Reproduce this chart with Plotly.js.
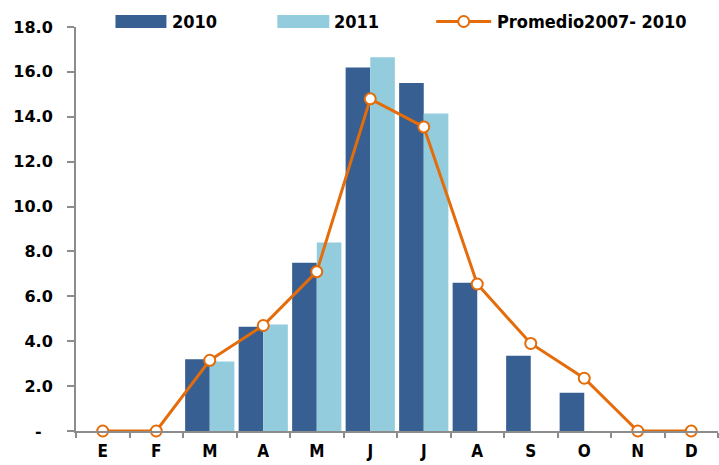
<!DOCTYPE html>
<html>
<head>
<meta charset="utf-8">
<script src="https://cdn.plot.ly/plotly-3.0.1.min.js"></script>
<style>html,body{margin:0;padding:0;background:#fff;}#chart{width:719px;height:465px;}</style>
</head>
<body>
<div id="chart"></div>
<script>
var months = ["E","F","M","A","M","J","J","A","S","O","N","D"];
var monthIds = ["Ene","Feb","Mar","Abr","May","Jun","Jul","Ago","Sep","Oct","Nov","Dic"];
var values2010 = [0, 0, 3.2, 4.65, 7.5, 16.2, 15.5, 6.6, 3.35, 1.7, 0, 0];
var values2011 = [0, 0, 3.1, 4.75, 8.4, 16.65, 14.15, null, null, null, null, null];
var promedio = [0, 0, 3.15, 4.7, 7.1, 14.8, 13.55, 6.55, 3.9, 2.35, 0, 0];
var yTickVals = [0, 2, 4, 6, 8, 10, 12, 14, 16, 18];
var yTickText = ["-\u00a0\u00a0", "2.0", "4.0", "6.0", "8.0", "10.0", "12.0", "14.0", "16.0", "18.0"];
var seriesNames = ["2010", "2011", "Promedio2007- 2010"];

var C2010 = "#375F91", C2011 = "#93CDDD", CPROM = "#E46C0A";
var fontCond = "DejaVu Sans Condensed, DejaVu Sans, sans-serif";

var traces = [
  {type: "bar", name: seriesNames[0], x: monthIds, y: values2010,
   marker: {color: C2010, line: {width: 0}}},
  {type: "bar", name: seriesNames[1], x: monthIds, y: values2011,
   marker: {color: C2011, line: {width: 0}}},
  {type: "scatter", mode: "lines+markers", name: seriesNames[2], x: monthIds, y: promedio,
   line: {color: CPROM, width: 3},
   marker: {symbol: "circle", size: 11, color: "#ffffff", line: {color: CPROM, width: 2}},
   cliponaxis: false}
];

// plot area geometry (pixels) used to place the hand-made legend
var W = 719, H = 465, L = 75.5, R = 1, T = 27, B = 34;
var pw = W - L - R, ph = H - T - B;
function px(x) { return (x - L) / pw; }
function py(y) { return (H - B - y) / ph; }

var legendY = 21.5;
var shapes = [
  {type: "rect", xref: "paper", yref: "paper", x0: px(115), x1: px(166), y0: py(28), y1: py(15),
   fillcolor: C2010, line: {width: 0}},
  {type: "rect", xref: "paper", yref: "paper", x0: px(277), x1: px(329), y0: py(28), y1: py(15),
   fillcolor: C2011, line: {width: 0}},
  {type: "line", xref: "paper", yref: "paper", x0: px(436), x1: px(491), y0: py(legendY), y1: py(legendY),
   line: {color: CPROM, width: 3}},
  {type: "circle", xref: "paper", yref: "paper", x0: px(463.5 - 5.5), x1: px(463.5 + 5.5),
   y0: py(legendY + 5.5), y1: py(legendY - 5.5), fillcolor: "#ffffff", line: {color: CPROM, width: 2}}
];
var legFont = {family: fontCond, size: 18, color: "#000", weight: "bold"};
var annotations = [
  {xref: "paper", yref: "paper", x: px(170), y: py(legendY), xanchor: "left", yanchor: "middle",
   text: seriesNames[0], showarrow: false, font: legFont},
  {xref: "paper", yref: "paper", x: px(332), y: py(legendY), xanchor: "left", yanchor: "middle",
   text: seriesNames[1], showarrow: false, font: legFont},
  {xref: "paper", yref: "paper", x: px(495), y: py(legendY), xanchor: "left", yanchor: "middle",
   text: seriesNames[2], showarrow: false, font: legFont}
];

var layout = {
  width: W, height: H,
  margin: {l: L, r: R, t: T, b: B, pad: 0},
  paper_bgcolor: "#ffffff", plot_bgcolor: "#ffffff",
  barmode: "group", bargap: 0.08, bargroupgap: 0,
  showlegend: false,
  shapes: shapes,
  annotations: annotations,
  xaxis: {type: "category", range: [-0.5, 11.5], tickmode: "array", tickvals: monthIds, ticktext: months,
          tickson: "boundaries", ticks: "outside", ticklen: 5, tickcolor: "#8c8c8c", tickwidth: 2,
          showline: true, linecolor: "#8c8c8c", linewidth: 2, showgrid: false, zeroline: false,
          ticklabelstandoff: 4, automargin: false,
          tickfont: {family: fontCond, size: 17, color: "#000", weight: "bold"}},
  yaxis: {range: [0, 18], tickmode: "array", tickvals: yTickVals, ticktext: yTickText,
          ticks: "outside", ticklen: 7, tickcolor: "#8c8c8c", tickwidth: 2,
          showline: true, linecolor: "#8c8c8c", linewidth: 2, showgrid: false, zeroline: false,
          ticklabelstandoff: 11, automargin: false,
          tickfont: {family: "DejaVu Sans, sans-serif", size: 16, color: "#000", weight: "bold"}}
};

Plotly.newPlot("chart", traces, layout, {displayModeBar: false, staticPlot: true});
</script>
</body>
</html>
